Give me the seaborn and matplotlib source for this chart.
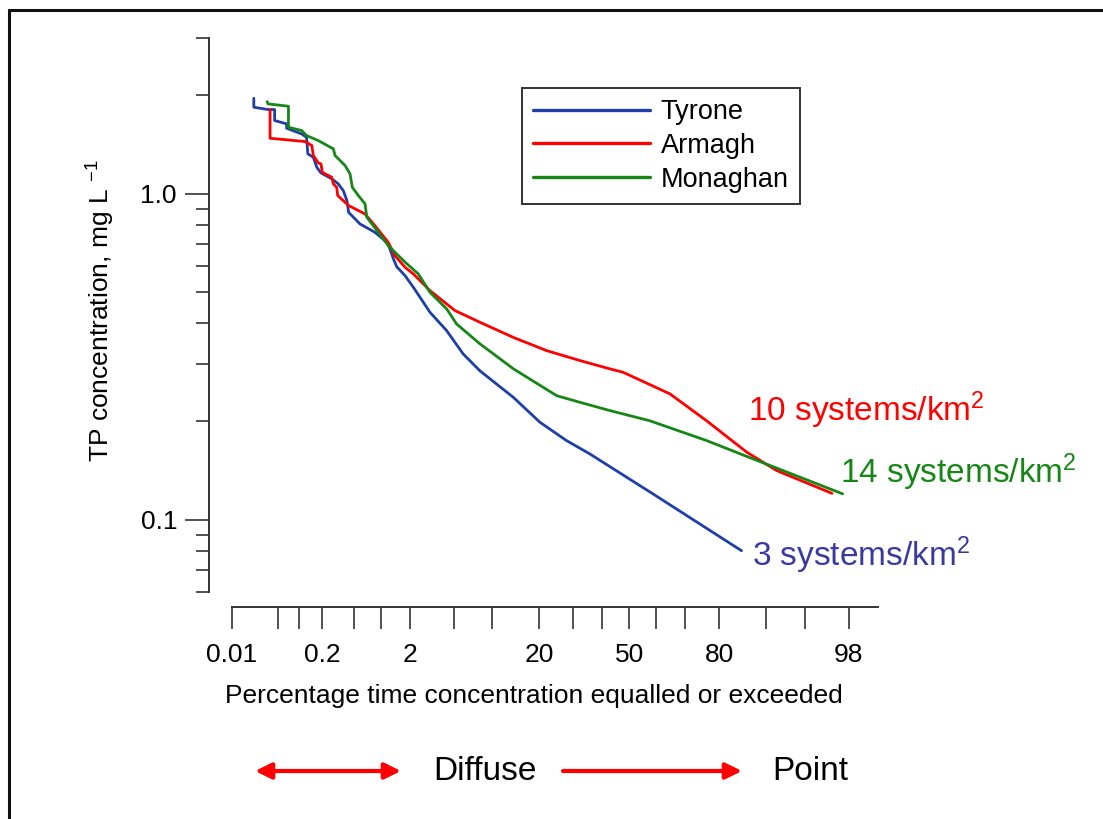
import math
import numpy as np
import pandas as pd
import matplotlib
matplotlib.use("Agg")
import matplotlib.pyplot as plt
import seaborn as sns
from matplotlib.ticker import FixedLocator, FixedFormatter, NullFormatter
from matplotlib.patches import FancyArrowPatch
from matplotlib.lines import Line2D

# ---------------- data ----------------
tyrone_pct = [0.022, 0.022, 0.036, 0.045, 0.045, 0.067, 0.067, 0.108, 0.126, 0.131,
              0.155, 0.172, 0.195, 0.267, 0.322, 0.371, 0.41, 0.43, 0.585, 0.86,
              1.16, 1.25, 1.36, 1.47, 1.79, 2.16, 3.1, 4.36, 6.0, 8.1,
              13.9, 20.1, 27.8, 35.6, 58.7, 85.3]
tyrone_tp = [1.96, 1.84, 1.81, 1.81, 1.675, 1.636, 1.586, 1.524, 1.488, 1.324,
             1.292, 1.204, 1.157, 1.110, 1.071, 1.021, 0.952, 0.876, 0.807, 0.761,
             0.709, 0.677, 0.631, 0.597, 0.560, 0.516, 0.4325, 0.380, 0.322, 0.286,
             0.237, 0.199, 0.1748, 0.159, 0.120, 0.0803]

armagh_pct = [0.0386, 0.0386, 0.12, 0.148, 0.155, 0.18, 0.195, 0.203, 0.267, 0.28,
              0.308, 0.317, 0.43, 0.668, 0.86, 1.2, 1.41, 1.79, 2.16, 3.1,
              5.13, 8.1, 13.9, 21.9, 32.2, 42.8, 47.7, 64.8, 76.5, 86.4,
              91.6, 97.1]
armagh_tp = [1.81, 1.478, 1.444, 1.404, 1.308, 1.242, 1.233, 1.162, 1.122, 1.071,
             1.045, 0.986, 0.919, 0.866, 0.798, 0.709, 0.645, 0.594, 0.567, 0.504,
             0.4377, 0.403, 0.362, 0.330, 0.3075, 0.290, 0.283, 0.243, 0.201, 0.161,
             0.1414, 0.1204]

monaghan_pct = [0.035, 0.036, 0.071, 0.071, 0.108, 0.126, 0.18, 0.28, 0.294, 0.39,
                0.447, 0.476, 0.56, 0.668, 0.70, 0.94, 1.2, 1.79, 2.41, 3.1,
                4.36, 5.3, 8.1, 13.9, 24.8, 32.2, 42.8, 57.6, 76.5, 87.0,
                97.7]
monaghan_tp = [1.915, 1.884, 1.853, 1.597, 1.561, 1.506, 1.454, 1.371, 1.308, 1.219,
               1.149, 1.045, 0.986, 0.930, 0.846, 0.761, 0.693, 0.616, 0.567, 0.498,
               0.443, 0.398, 0.346, 0.290, 0.240, 0.229, 0.216, 0.201, 0.1748, 0.155,
               0.120]

series_names = ["Tyrone", "Armagh", "Monaghan"]
series_colors = ["#1f3fa6", "#ff0000", "#168716"]
density_labels = ["3 systems/km$^{\\mathregular{2}}$",
                  "10 systems/km$^{\\mathregular{2}}$",
                  "14 systems/km$^{\\mathregular{2}}$"]
density_colors = ["#3a3a9e", "#ff0000", "#168716"]

x_ticks = [0.01, 0.05, 0.1, 0.2, 0.5, 1, 2, 5, 10, 20, 30, 40, 50, 60, 70, 80, 90, 95, 98]
x_labelled = ["0.01", "0.2", "2", "20", "50", "80", "98"]
y_major = [0.1, 1.0]
y_major_labels = ["0.1", "1.0"]
y_minor = [0.06, 0.07, 0.08, 0.09, 0.2, 0.3, 0.4, 0.5, 0.6, 0.7, 0.8, 0.9, 2.0, 3.0]

# ---------------- long table ----------------
df = pd.concat([
    pd.DataFrame({"pct": tyrone_pct, "tp": tyrone_tp, "site": "Tyrone"}),
    pd.DataFrame({"pct": armagh_pct, "tp": armagh_tp, "site": "Armagh"}),
    pd.DataFrame({"pct": monaghan_pct, "tp": monaghan_tp, "site": "Monaghan"}),
], ignore_index=True)

# ---------------- style ----------------
sns.set_style("ticks")
plt.rcParams["font.family"] = ["Liberation Sans", "DejaVu Sans"]
plt.rcParams["mathtext.fontset"] = "custom"
plt.rcParams["mathtext.rm"] = "Liberation Sans"
plt.rcParams["mathtext.it"] = "Liberation Sans:italic"
plt.rcParams["mathtext.bf"] = "Liberation Sans:bold"
plt.rcParams["text.color"] = "black"
plt.rcParams["axes.labelcolor"] = "black"
plt.rcParams["xtick.color"] = "#333333"
plt.rcParams["ytick.color"] = "#333333"

W, H = 1103, 819
fig = plt.figure(figsize=(W / 100, H / 100), dpi=100)
fig.patch.set_facecolor("white")

ax_l, ax_r, ax_t, ax_b = 209, 878, 38, 592
ax = fig.add_axes([ax_l / W, 1 - ax_b / H, (ax_r - ax_l) / W, (ax_b - ax_t) / H])

sns.lineplot(data=df, x="pct", y="tp", hue="site", hue_order=series_names,
             palette=dict(zip(series_names, series_colors)), sort=False,
             estimator=None, linewidth=2.0, legend=False, ax=ax)

# ---------------- probability (probit) x-scale ----------------
_zg = np.linspace(-7, 7, 28001)
_cg = 0.5 * (1 + np.array([math.erf(v / math.sqrt(2)) for v in _zg]))


def fwd(p):
    p = np.clip(np.asarray(p, dtype=float) / 100.0, _cg[0], _cg[-1])
    return np.interp(p, _cg, _zg)


def inv(z):
    return np.interp(np.asarray(z, dtype=float), _zg, _cg) * 100.0


ax.set_xscale("function", functions=(fwd, inv))
z_per_px = 1 / 106.9
x_left = float(inv(fwd(0.01) - (232 - ax_l) * z_per_px))
ax.set_xlim(x_left, 99)
ax.set_yscale("log")
ax.set_ylim(0.06, 3.0)

ax.xaxis.set_major_locator(FixedLocator(x_ticks))
ax.xaxis.set_major_formatter(FixedFormatter(
    [("%g" % t if "%g" % t in x_labelled else "") for t in x_ticks]))
ax.xaxis.set_minor_locator(FixedLocator([]))
ax.yaxis.set_major_locator(FixedLocator(y_major))
ax.yaxis.set_major_formatter(FixedFormatter(y_major_labels))
ax.yaxis.set_minor_locator(FixedLocator(y_minor))
ax.yaxis.set_minor_formatter(NullFormatter())

axis_col = "#333333"
for s in ["top", "right"]:
    ax.spines[s].set_visible(False)
ax.spines["left"].set_color(axis_col)
ax.spines["left"].set_linewidth(1.4)
ax.spines["bottom"].set_color(axis_col)
ax.spines["bottom"].set_linewidth(1.4)
ax.spines["bottom"].set_position(("outward", 15 * 0.72))
ax.spines["bottom"].set_bounds(0.01, 99)

ax.tick_params(axis="x", which="major", bottom=True, direction="out", length=22 * 0.72,
               width=1.2, color=axis_col, labelsize=19, pad=14 * 0.72, labelcolor="black")
ax.tick_params(axis="y", which="major", left=True, direction="out", length=24 * 0.72,
               width=1.2, color=axis_col, labelsize=19, pad=8 * 0.72, labelcolor="black")
ax.tick_params(axis="y", which="minor", left=True, direction="out", length=13 * 0.72,
               width=1.2, color=axis_col)
ax.grid(False)

ax.set_xlabel("Percentage time concentration equalled or exceeded", fontsize=19)
ax.xaxis.set_label_coords((533.5 - ax_l) / (ax_r - ax_l), -(684 - ax_b) / (ax_b - ax_t))
ax.set_ylabel("TP concentration, mg L $^{\\mathregular{-1}}$", fontsize=19)
ax.yaxis.set_label_coords(-(ax_l - 117) / (ax_r - ax_l), 1 - (311 - ax_t) / (ax_b - ax_t))

# ---------------- legend ----------------
handles = [Line2D([], [], color=c, lw=2.4) for c in series_colors]
leg = ax.legend(handles, series_names, loc="upper left",
                bbox_to_anchor=(522 / W, 1 - 88 / H), bbox_transform=fig.transFigure,
                frameon=True, fancybox=False, framealpha=1, edgecolor=axis_col,
                borderaxespad=0, fontsize=19.5, handlelength=4.3, handletextpad=0.4,
                labelspacing=0.28, borderpad=0.42)
leg.get_frame().set_linewidth(1.4)

# ---------------- density annotations ----------------
ann_pos = [(752, 555), (748, 410), (840, 472)]
for (px, py), txt, col in zip(ann_pos, density_labels, density_colors):
    fig.text(px / W, 1 - py / H, txt, color=col, fontsize=24, ha="left", va="center")

# ---------------- bottom arrows ----------------
arr_y = 1 - 771 / H
fig.add_artist(FancyArrowPatch((255 / W, arr_y), (401 / W, arr_y), transform=fig.transFigure,
                               arrowstyle="<|-|>,head_length=0.65,head_width=0.32",
                               mutation_scale=15, color="#ff0000", lw=3, shrinkA=0, shrinkB=0))
fig.add_artist(FancyArrowPatch((563 / W, arr_y), (742 / W, arr_y), transform=fig.transFigure,
                               arrowstyle="-|>,head_length=0.65,head_width=0.32",
                               mutation_scale=15, color="#ff0000", lw=3, shrinkA=0, shrinkB=0))
fig.text(433 / W, arr_y, "Diffuse", fontsize=24, ha="left", va="center")
fig.text(772 / W, arr_y, "Point", fontsize=24, ha="left", va="center")

# ---------------- page frame ----------------
fig.add_artist(Line2D([9 / W, 9 / W], [0, 1 - 10 / H], transform=fig.transFigure,
                      color="#111111", lw=2.2))
fig.add_artist(Line2D([9 / W, 1], [1 - 10 / H, 1 - 10 / H], transform=fig.transFigure,
                      color="#111111", lw=2.2))

fig.savefig("out.png", dpi=100, facecolor="white")
